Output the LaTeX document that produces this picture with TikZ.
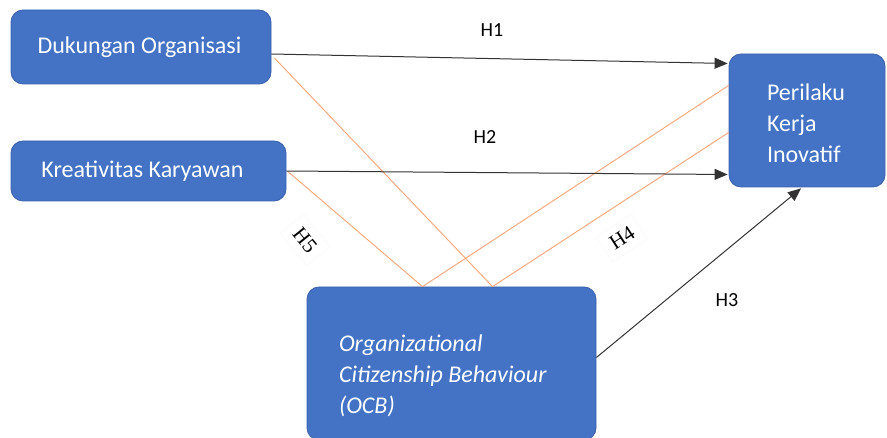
\documentclass[tikz,border=0pt]{standalone}
\usepackage{fontspec}
\setmainfont{Carlito}
\newfontfamily\serifH{Liberation Serif}
\usetikzlibrary{arrows.meta,calc}
\definecolor{boxblue}{HTML}{4472C4}
\definecolor{boxedge}{HTML}{3A62AC}
\definecolor{orangeln}{HTML}{F4A373}
\definecolor{arrowgray}{HTML}{333333}
\tikzset{
  varbox/.style={draw=boxedge, line width=0.8pt, fill=boxblue, rounded corners=12pt,
    text=white, font=\fontsize{24}{31}\selectfont, inner sep=0pt},
  hyparrow/.style={draw=arrowgray, line width=1pt, -{Triangle[length=13pt,width=11pt]}},
  medline/.style={draw=orangeln, line width=0.9pt},
  hlabel/.style={font=\fontsize{20}{22}\selectfont, text=black},
  rlabel/.style={font=\serifH\fontsize{21}{23}\selectfont, text=black, draw=gray!8, inner sep=8pt}
}
\begin{document}
\begin{tikzpicture}[x=1pt,y=-1pt]
\useasboundingbox (0,0) rectangle (887,438);
\node[varbox, minimum width=260pt, minimum height=74pt] (b1) at (141,47) {\hspace*{-3pt}Dukungan Organisasi};
\node[varbox, minimum width=275pt, minimum height=60pt] (b2) at (148.5,171) {\hspace*{-12pt}Kreativitas Karyawan};
\node[varbox, minimum width=156pt, minimum height=133pt, align=left] (b3) at (807,120.5)
  {\parbox[c][133pt][t]{80pt}{\vspace*{30pt}Perilaku\\Kerja\\Inovatif}};
\node[varbox, minimum width=289pt, minimum height=153pt, align=left,
  font=\itshape\fontsize{24}{31}\selectfont] (b4) at (451.5,363.5)
  {\parbox[c][153pt][t]{225pt}{\vspace*{48pt}Organizational\\Citizenship Behaviour\\(OCB)}};

% endpoints
\coordinate (h1s) at ($(b1.east)+(0,7)$);
\coordinate (h1e) at ($(b3.west)+(-1,-57)$);
\coordinate (h2s) at ($(b2.east)+(0,0)$);
\coordinate (h2e) at ($(b3.west)+(-1,54)$);
\coordinate (h3s) at ($(b4.east)+(0,-6)$);
\coordinate (h3e) at ($(b3.south)+(-6,1)$);
\coordinate (o1s) at ($(b1.east)+(3,11)$);
\coordinate (o2s) at ($(b2.east)+(2,1)$);
\coordinate (o4a) at ($(b4.north)+(-29,0)$);
\coordinate (o4b) at ($(b4.north)+(41,0)$);
\coordinate (o3e) at ($(b3.west)+(0,-35)$);
\coordinate (o4e) at ($(b3.west)+(0,12)$);

\draw[medline] (o1s) -- (o4b);
\draw[medline] (o2s) -- (o4a);
\draw[medline] (o4a) -- (o3e);
\draw[medline] (o4b) -- (o4e);

\draw[hyparrow] (h1s) -- (h1e);
\draw[hyparrow] (h2s) -- (h2e);
\draw[hyparrow] (h3s) -- (h3e);

\node[hlabel] (l1) at (492,30) {H1};
\node[hlabel] (l2) at (485,137) {H2};
\node[hlabel] (l3) at (727,300) {H3};
\node[rlabel, rotate=33] (l4) at (622,238) {H4};
\node[rlabel, rotate=-51] (l5) at (305,240) {H5};
\end{tikzpicture}
\end{document}
